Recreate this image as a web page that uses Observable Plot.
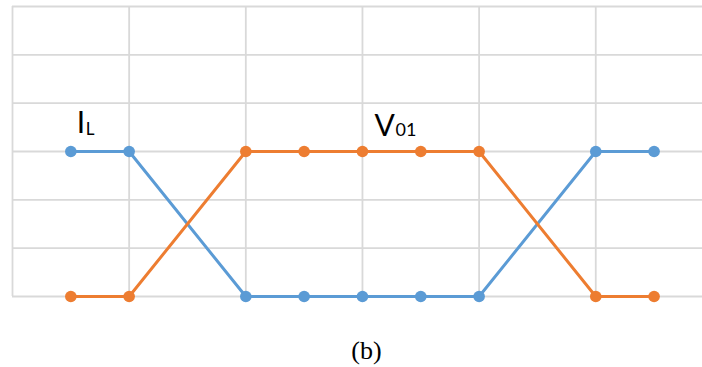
<!DOCTYPE html>
<html>
<head>
<meta charset="utf-8">
<script src="https://cdn.jsdelivr.net/npm/d3@7"></script>
<script src="https://cdn.jsdelivr.net/npm/@observablehq/plot@0.6"></script>
<style>
  html, body { margin: 0; padding: 0; background: #fff; }
  svg { display: block; }
</style>
</head>
<body>
<div id="chart"></div>
<script>
// Data
const steps = [1, 2, 4, 5, 6, 7, 8, 10, 11];
const iL    = [3, 3, 0, 0, 0, 0, 0, 3, 3];
const v01   = [0, 0, 3, 3, 3, 3, 3, 0, 0];
const xGrid = [0, 2, 4, 6, 8, 10];
const yGrid = [0, 1, 2, 3, 4, 5, 6];
const seriesLabels = [
  {name: "I", sub: "L", x: 1, y: 3},
  {name: "V", sub: "01", x: 6, y: 3}
];
const caption = "(b)";

const blue = "#5B9BD5";
const orange = "#ED7D31";
const grid = "#d9d9d9";

const iData = steps.map((x, i) => ({x, y: iL[i]}));
const vData = steps.map((x, i) => ({x, y: v01[i]}));

const chart = Plot.plot({
  width: 702,
  height: 367,
  marginLeft: 12,
  marginRight: 0,
  marginTop: 6,
  marginBottom: 71,
  x: {domain: [0, 11.83], axis: null},
  y: {domain: [0, 6], axis: null},
  style: {fontFamily: "Lato, sans-serif", background: "#fff"},
  marks: [
    Plot.ruleY(yGrid, {stroke: grid, strokeWidth: 1.8}),
    Plot.ruleX(xGrid, {y1: 0, y2: 6, stroke: grid, strokeWidth: 1.8}),
    Plot.line(iData, {x: "x", y: "y", stroke: blue, strokeWidth: 3}),
    Plot.dot(iData, {x: "x", y: "y", r: 5.8, fill: blue}),
    Plot.line(vData, {x: "x", y: "y", stroke: orange, strokeWidth: 3}),
    Plot.dot(vData, {x: "x", y: "y", r: 5.8, fill: orange}),
    // I_L label
    Plot.text([seriesLabels[0]], {x: "x", y: "y", text: "name", dx: 6, dy: -19,
      textAnchor: "start", lineAnchor: "bottom", fontSize: 30, fill: "#000"}),
    Plot.text([seriesLabels[0]], {x: "x", y: "y", text: "sub", dx: 15, dy: -17,
      textAnchor: "start", lineAnchor: "bottom", fontSize: 17, fill: "#000"}),
    // V01 label
    Plot.text([seriesLabels[1]], {x: "x", y: "y", text: "name", dx: 12, dy: -16,
      textAnchor: "start", lineAnchor: "bottom", fontSize: 30, fill: "#000"}),
    Plot.text([seriesLabels[1]], {x: "x", y: "y", text: "sub", dx: 33, dy: -16,
      textAnchor: "start", lineAnchor: "bottom", fontSize: 18, fill: "#000"}),
    // caption
    Plot.text([caption], {text: d => d, frameAnchor: "bottom", dx: 9, dy: 62,
      lineAnchor: "bottom", fontSize: 26, fontFamily: "Liberation Serif, serif", fill: "#000"})
  ]
});
document.getElementById("chart").appendChild(chart);
</script>
</body>
</html>
